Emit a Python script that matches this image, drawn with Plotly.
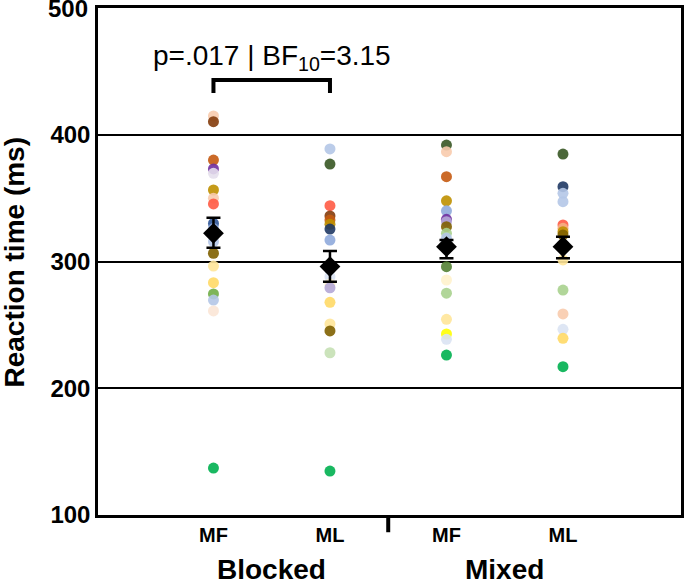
import plotly.graph_objects as go

categories = ["Blocked MF", "Blocked ML", "Mixed MF", "Mixed ML"]
tick_labels = ["MF", "ML", "MF", "ML"]
group_labels = ["Blocked", "Mixed"]
y_ticks = [100, 200, 300, 400, 500]

blocked_mf = [414.8, 410.3, 380, 373, 369.6, 356.4, 350, 345.4, 330, 326, 315.6, 306.5, 296.4, 283.3, 274.4, 269.6, 261, 137]
blocked_mf_colors = ["#F8CBAD", "#843C0C", "#C55A11", "#7030A0", "#E4DFEC", "#BF9000", "#F8CBAD", "#FF5B45", "#2F5597",
                     "#8FAADC", "#B4C7E7", "#7F6000", "#FFE699", "#FFD966", "#70AD47", "#B4C7E7", "#FBE5D6", "#00B050"]

blocked_ml = [388.8, 376.9, 344, 335.9, 332.7, 329.4, 325.6, 316.9, 294, 288, 282.3, 279.3, 267.8, 250.7, 245.2, 228, 134.7]
blocked_ml_colors = ["#B4C7E7", "#375623", "#FF5B45", "#843C0C", "#C55A11", "#BF9000", "#1F3864", "#8FAADC", "#2F5597",
                     "#DAE3F3", "#FFF2CC", "#B4A7D6", "#FFD966", "#FFE699", "#7F6000", "#C5E0B4", "#00B050"]

mixed_mf = [391.9, 386.6, 366.9, 347.9, 340, 333.3, 331.4, 327.5, 322.2, 318.5, 313.8, 295.9, 285.4, 275, 254.4, 242.8, 238.6, 226.2]
mixed_mf_colors = ["#375623", "#F8CBAD", "#C55A11", "#BF9000", "#8FAADC", "#7030A0", "#B4A7D6", "#7F6000", "#A9D18E",
                   "#B4C7E7", "#2F5597", "#548235", "#FFF2CC", "#A9D18E", "#FFE699", "#FFFF00", "#DAE3F3", "#00B050"]

mixed_ml = [384.8, 359, 353.8, 347.2, 328.8, 326.2, 323.5, 321, 301.2, 277.5, 258.6, 246.5, 239.4, 217]
mixed_ml_colors = ["#375623", "#1F3864", "#B4C7E7", "#B4C7E7", "#FF5B45", "#F4B183", "#BF9000", "#7F6000",
                   "#FFE699", "#A9D18E", "#F8CBAD", "#DAE3F3", "#FFD966", "#00B050"]

means = [322.2, 296.0, 311.7, 311.7]
err_plus = [12.4, 12.3, 5.3, 7.9]
err_minus = [11.3, 11.9, 9.2, 9.2]

stat_text = "p=.017 | BF<sub>10</sub>=3.15"
y_title = "Reaction time (ms)"

FONT = "Arial, Liberation Sans, sans-serif"

fig = go.Figure()
series = [(blocked_mf, blocked_mf_colors), (blocked_ml, blocked_ml_colors),
          (mixed_mf, mixed_mf_colors), (mixed_ml, mixed_ml_colors)]
for i, (vals, cols) in enumerate(series):
    fig.add_trace(go.Scatter(
        x=[i] * len(vals), y=vals, mode="markers",
        marker=dict(size=11, color=cols, opacity=0.9, line=dict(width=0)),
        showlegend=False, hoverinfo="y"))

fig.add_trace(go.Scatter(
    x=list(range(len(categories))), y=means, mode="markers",
    marker=dict(symbol="diamond", size=16, color="black"),
    error_y=dict(type="data", symmetric=False, array=err_plus, arrayminus=err_minus,
                 color="black", thickness=2.5, width=7),
    showlegend=False))

# significance bracket
fig.add_shape(type="path", xref="x", yref="y",
              path="M 0,433 L 0,443.2 L 1,443.2 L 1,433",
              line=dict(color="black", width=4))
fig.add_annotation(x=0.5, y=461, xref="x", yref="y", text=stat_text, showarrow=False,
                   font=dict(family=FONT, size=28, color="black"))

# divider tick between groups
fig.add_shape(type="line", xref="x", yref="paper", x0=1.5, x1=1.5, y0=0, y1=-0.034,
              line=dict(color="black", width=4))

for gx, lab in zip([0.5, 2.5], group_labels):
    fig.add_annotation(x=gx, y=-0.108, xref="x", yref="paper", text="<b>%s</b>" % lab,
                       showarrow=False, yanchor="middle",
                       font=dict(family=FONT, size=28, color="black"))

fig.add_annotation(x=(14 - 98) / 583, y=0.5, xref="paper", yref="paper", text="<b>%s</b>" % y_title,
                   showarrow=False, textangle=-90, xanchor="center", yanchor="middle",
                   font=dict(family=FONT, size=28, color="black"))

# top tick label (plotly drops it at the very edge of the figure)
fig.add_annotation(x=(89 - 98) / 583, y=y_ticks[-1], xref="paper", yref="y", text="<b>%d</b>" % y_ticks[-1],
                   showarrow=False, xanchor="right", yanchor="middle", borderpad=0,
                   font=dict(family=FONT, size=24, color="black"))

fig.update_layout(
    width=685, height=582,
    margin=dict(l=98, r=4, t=8, b=67, autoexpand=False),
    plot_bgcolor="white", paper_bgcolor="white",
    font=dict(family=FONT, color="black"),
    xaxis=dict(range=[-0.991, 4.013], tickmode="array", tickvals=list(range(len(categories))),
               ticktext=["<b>%s</b>" % t for t in tick_labels], tickfont=dict(size=20, family=FONT),
               showgrid=False, zeroline=False, showline=True, mirror=True, linecolor="black",
               linewidth=2.5, ticks="", ticklen=0, automargin=False),
    yaxis=dict(range=[100, 500], tickmode="array", tickvals=y_ticks[:-1],
               ticktext=["<b>%d</b>" % v for v in y_ticks[:-1]],
               tickfont=dict(size=24, family=FONT), showgrid=True, gridcolor="black", gridwidth=2,
               zeroline=False, showline=True, mirror=True, linecolor="black", linewidth=2.5,
               ticks="", automargin=False),
)

fig.write_html("out.html", config={"displayModeBar": False},
               post_script="document.body.style.margin='0';document.body.style.overflow='hidden';")
